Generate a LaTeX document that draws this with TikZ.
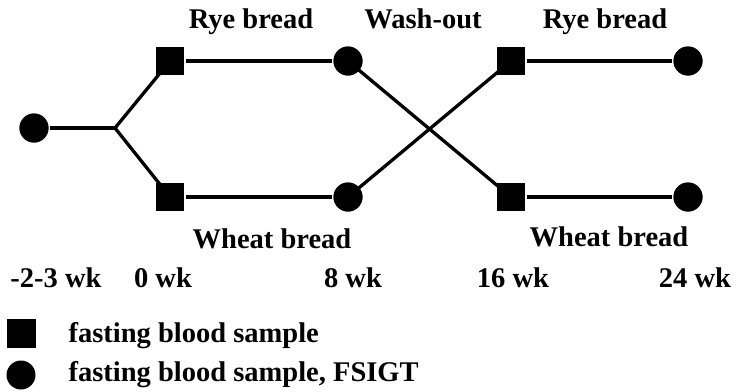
\documentclass[tikz,border=0pt]{standalone}
\usepackage{fontspec}
\setmainfont{Liberation Serif}
\usepackage{tikz}
\usetikzlibrary{positioning, calc}

\tikzset{
    sample/.style={fill=black, minimum size=28pt, inner sep=0pt},
    fsigt/.style={circle, fill=black, minimum size=29pt, inner sep=0pt},
    lbl/.style={font=\fontsize{28.5}{31}\selectfont\bfseries, inner sep=0pt}
}

\begin{document}
\begin{tikzpicture}[x=1pt, y=-1pt, line width=3.3pt]
    \useasboundingbox (0,0) rectangle (739,391);

    % Branch point
    \coordinate (fork) at (115,128);

    % Time points
    \node[fsigt] (pre) at (34,128) {};
    \node[sample] (rye0) at (170,61) {};
    \node[sample] (wheat0) at (170,197) {};
    \node[fsigt] (rye8) at (348,61) {};
    \node[fsigt] (wheat8) at (348,197) {};
    \node[sample] (rye16) at (511,61) {};
    \node[sample] (wheat16) at (511,197) {};
    \node[fsigt] (rye24) at (688,61) {};
    \node[fsigt] (wheat24) at (688,197) {};

    % Draw arms
    \draw (pre) -- (fork);
    \draw (fork) -- (rye0.center);
    \draw (fork) -- (wheat0.center);
    \draw (rye0) -- (rye8);
    \draw (wheat0) -- (wheat8);
    \draw (rye8.center) -- (wheat16.center);
    \draw (wheat8.center) -- (rye16.center);
    \draw (rye16) -- (rye24);
    \draw (wheat16) -- (wheat24);

    % Redraw markers on top
    \foreach \m in {rye8, wheat8, rye24, wheat24, pre} {
        \fill (\m) circle (14.5pt);
    }
    \foreach \m in {rye0, wheat0, rye16, wheat16} {
        \fill ($(\m)+(-14,-14)$) rectangle ($(\m)+(14,14)$);
    }

    % Period labels
    \node[lbl, anchor=base] (t1) at (251,28) {Rye bread};
    \node[lbl, anchor=base] (t2) at (423,28) {Wash-out};
    \node[lbl, anchor=base] (t3) at (605,28) {Rye bread};
    \node[lbl, anchor=base] (t4) at (272,248) {Wheat bread};
    \node[lbl, anchor=base] (t5) at (609,246) {Wheat bread};

    % Weeks
    \node[lbl, anchor=base] (wk1) at (56,287) {-2-3 wk};
    \node[lbl, anchor=base] (wk2) at (163,287) {0 wk};
    \node[lbl, anchor=base] (wk3) at (353,287) {8 wk};
    \node[lbl, anchor=base] (wk4) at (513,287) {16 wk};
    \node[lbl, anchor=base] (wk5) at (695,287) {24 wk};

    % Legend
    \node[sample, minimum size=29pt] (keysq) at (21,333) {};
    \node[fsigt, minimum size=29pt] (keydot) at (21,375) {};
    \node[lbl, anchor=base west] (keytext1) at (67,342) {fasting blood sample};
    \node[lbl, anchor=base west] (keytext2) at (67,381) {fasting blood sample, FSIGT};
\end{tikzpicture}
\end{document}
